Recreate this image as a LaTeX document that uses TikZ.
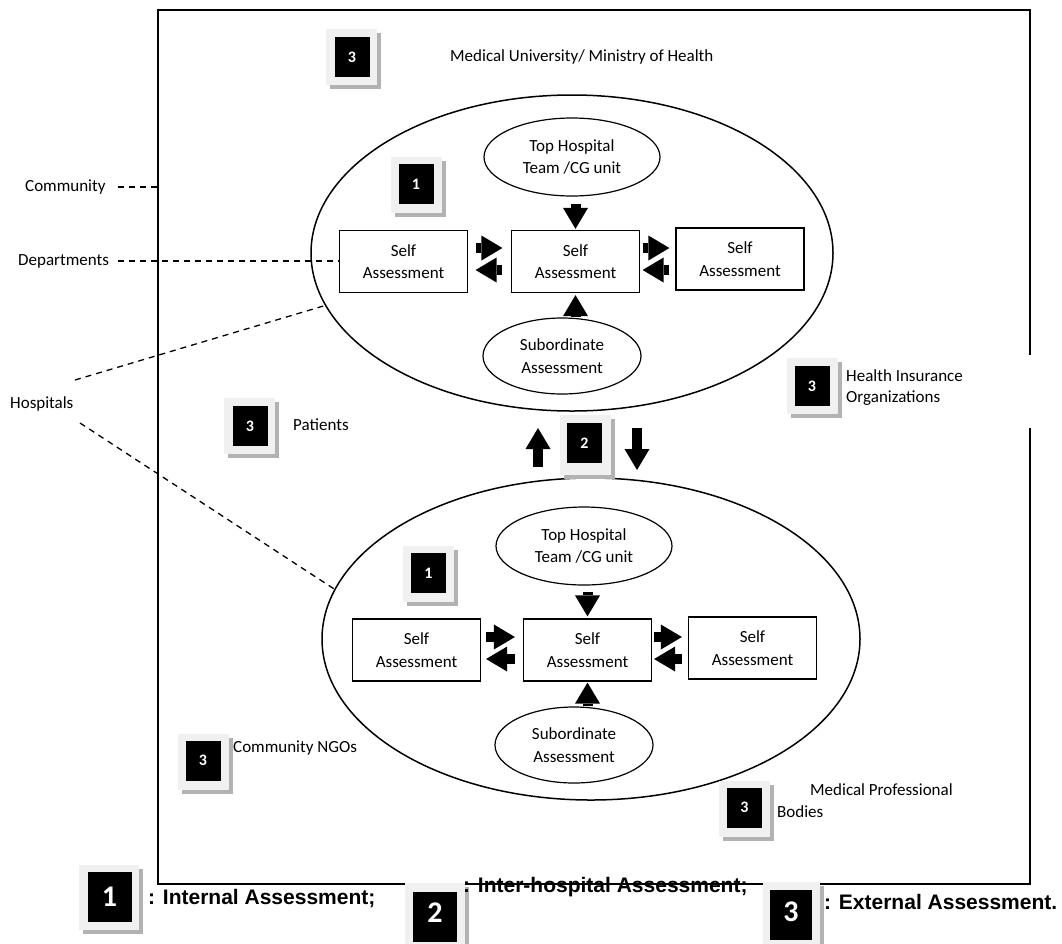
\documentclass[tikz,border=0pt]{standalone}
\usepackage{fontspec}
\setmainfont{Carlito}
\newfontfamily\legendfont{Liberation Sans}
\usetikzlibrary{shapes.geometric,arrows.meta,shadows}
\begin{document}
\begin{tikzpicture}[x=1pt,y=-1pt,
  lbl/.style={font=\fontsize{17}{21.5}\selectfont, inner sep=0pt, align=left},
  ctext/.style={font=\fontsize{17}{22.5}\selectfont, align=center, inner sep=0pt},
  rectbox/.style={draw, line width=1.2pt, minimum width=128pt, minimum height=62pt, ctext},
  ovalbox/.style={draw, ellipse, line width=1.2pt, ctext},
  bigoval/.style={draw, ellipse, line width=1.5pt, inner sep=0pt},
  frame/.style={line width=1.4pt},
  dashline/.style={dashed, dash pattern=on 6pt off 5pt, line width=1.3pt},
  blockarrow/.style={line width=10pt, -{Triangle[length=21pt,width=25pt,line width=0pt]}},
  badgeout/.style={fill=black!6, inner sep=0pt, drop shadow={shadow xshift=4pt, shadow yshift=-4pt, fill=black!30, opacity=1}},
  badgein/.style={fill=black, text=white, inner sep=0pt},
  smallout/.style={badgeout, minimum width=51pt, minimum height=56pt},
  smallin/.style={badgein, minimum width=35pt, minimum height=40pt, font=\bfseries\fontsize{16}{16}\selectfont},
  legout/.style={badgeout, minimum width=60pt, minimum height=65pt},
  legin/.style={badgein, minimum width=44pt, minimum height=50pt, font=\bfseries\fontsize{30}{30}\selectfont},
  legtext/.style={font=\legendfont\bfseries\fontsize{21}{24}\selectfont, inner sep=0pt, anchor=west}
]
\useasboundingbox (0,0) rectangle (1062,943);

% outer frame
\draw[frame] (1030,355) -- (1030,10) -- (158,10) -- (158,884) -- (1030,884) -- (1030,428);
\coordinate (frameL) at (158,10);

% big hospital ellipses
\node[bigoval, minimum width=522pt, minimum height=316pt] (U) at (572,253) {};
\node[bigoval, minimum width=538pt, minimum height=322pt] (L) at (591,639) {};

% upper hospital
\node[ovalbox, minimum width=176pt, minimum height=78pt] (T1) at (572,157) {Top Hospital\\Team /CG unit};
\node[rectbox] (SL1) at (403.5,261.5) {Self\\Assessment};
\node[rectbox] (SC1) at (575.5,261.5) {Self\\Assessment};
\node[rectbox] (SR1) at (740,259) {Self\\Assessment};
\node[ovalbox, minimum width=158pt, minimum height=76pt] (S1) at (562,356) {Subordinate\\Assessment};

\draw[blockarrow, shorten <=7pt, shorten >=1pt] (T1.south -| SC1.north) -- (SC1.north);
\draw[blockarrow, shorten >=2pt] (S1.north -| SC1.south) -- (SC1.south);
\draw[blockarrow, shorten <=7.5pt, shorten >=8.5pt] ([yshift=13.5pt]SL1.east) -- ([yshift=13.5pt]SL1.east -| SC1.west);
\draw[blockarrow, shorten <=8.5pt, shorten >=7.5pt] ([yshift=-8.5pt]SC1.west) -- ([yshift=-8.5pt]SC1.west -| SL1.east);
\draw[blockarrow, shorten <=2.5pt, shorten >=6pt] ([yshift=13.5pt]SC1.east) -- ([yshift=13.5pt]SC1.east -| SR1.west);
\draw[blockarrow, shorten <=6pt, shorten >=2.5pt] ([yshift=-8.5pt]SC1.east -| SR1.west) -- ([yshift=-8.5pt]SC1.east);

% lower hospital
\node[ovalbox, minimum width=176pt, minimum height=78pt] (T2) at (584,546) {Top Hospital\\Team /CG unit};
\node[rectbox] (SL2) at (416.5,650) {Self\\Assessment};
\node[rectbox] (SC2) at (587.5,650) {Self\\Assessment};
\node[rectbox] (SR2) at (752.5,648) {Self\\Assessment};
\node[ovalbox, minimum width=158pt, minimum height=76pt] (S2) at (574,745) {Subordinate\\Assessment};

\draw[blockarrow, shorten <=6pt, shorten >=2pt] (T2.south -| SC2.north) -- (SC2.north);
\draw[blockarrow, shorten >=1pt] (S2.north -| SC2.south) -- (SC2.south);
\draw[blockarrow, shorten <=5pt, shorten >=8pt] ([yshift=13pt]SL2.east) -- ([yshift=13pt]SL2.east -| SC2.west);
\draw[blockarrow, shorten <=8pt, shorten >=5pt] ([yshift=-9pt]SC2.west) -- ([yshift=-9pt]SC2.west -| SL2.east);
\draw[blockarrow, shorten <=2pt, shorten >=6pt] ([yshift=13pt]SC2.east) -- ([yshift=13pt]SC2.east -| SR2.west);
\draw[blockarrow, shorten <=6pt, shorten >=2pt] ([yshift=-9pt]SC2.east -| SR2.west) -- ([yshift=-9pt]SC2.east);

% inter-hospital arrows
\coordinate (up2s) at (538,467);
\coordinate (up2e) at (538,428);
\coordinate (dn2s) at (637,428);
\coordinate (dn2e) at (637,470);
\draw[blockarrow] (up2s) -- (up2e);
\draw[blockarrow] (dn2s) -- (dn2e);

% texts
\node[lbl, anchor=west] (title) at (450,57) {Medical University/ Ministry of Health};
\node[lbl, anchor=west] (community) at (25,187) {Community};
\node[lbl, anchor=west] (departments) at (18,261) {Departments};
\node[lbl, anchor=west] (hospitals) at (10,404) {Hospitals};
\node[lbl, anchor=west] (patients) at (293,425) {Patients};
\node[lbl, anchor=west] (insurance) at (846,387.5) {Health Insurance\\Organizations};
\node[lbl, anchor=west] (ngos) at (233,748) {Community NGOs};
\node[lbl, anchor=west] (medprof) at (810,790) {Medical Professional};
\node[lbl, anchor=west] (bodies) at (777,812) {Bodies};

% dashed leaders
\coordinate (h1) at (75,380);
\coordinate (h2) at (80,423);
\draw[dashline, shorten <=12pt] (community.east) -- (community.east -| frameL);
\draw[dashline, shorten <=9pt, shorten >=0pt] (departments.east) -- (departments.east -| SL1.west);
\draw[dashline] (h1) -- (U.192);
\draw[dashline] (h2) -- (L.169);

% badges
\node[smallout] (b3top) at (351.5,57) {};
\node[smallin] (b3topi) at (352,57) {3};
\node[smallout] (b1up) at (416,184.5) {};
\node[smallin] (b1upi) at (416,184) {1};
\node[smallout] (b3pat) at (249.5,426) {};
\node[smallin] (b3pati) at (250,426) {3};
\node[smallout, minimum height=60pt] (b2) at (585,445) {};
\node[smallin] (b2i) at (584.5,443) {2};
\node[smallout] (b3ins) at (812,385.5) {};
\node[smallin] (b3insi) at (812,386) {3};
\node[smallout] (b1lo) at (428.5,573.5) {};
\node[smallin] (b1loi) at (428.5,573) {1};
\node[smallout] (b3ngo) at (203,762) {};
\node[smallin] (b3ngoi) at (203,760.5) {3};
\node[smallout] (b3med) at (744.5,809) {};
\node[smallin] (b3medi) at (744.5,807.5) {3};

% legend
\node[legout] (lg1) at (109,897.5) {};
\node[legin] (lg1i) at (109.5,897) {1};
\node[legtext] (lt1) at (148,898) {: Internal Assessment;};
\node[legout] (lg2) at (435,915.5) {};
\node[legin] (lg2i) at (435,917) {\raisebox{8pt}{2}};
\node[legtext] (lt2) at (463,887) {: Inter-hospital Assessment;};
\node[legout, minimum width=57pt] (lg3) at (791.5,914.5) {};
\node[legin, minimum width=42pt] (lg3i) at (791,915) {\raisebox{6pt}{3}};
\node[legtext] (lt3) at (824,902) {: External Assessment.};
\end{tikzpicture}
\end{document}
